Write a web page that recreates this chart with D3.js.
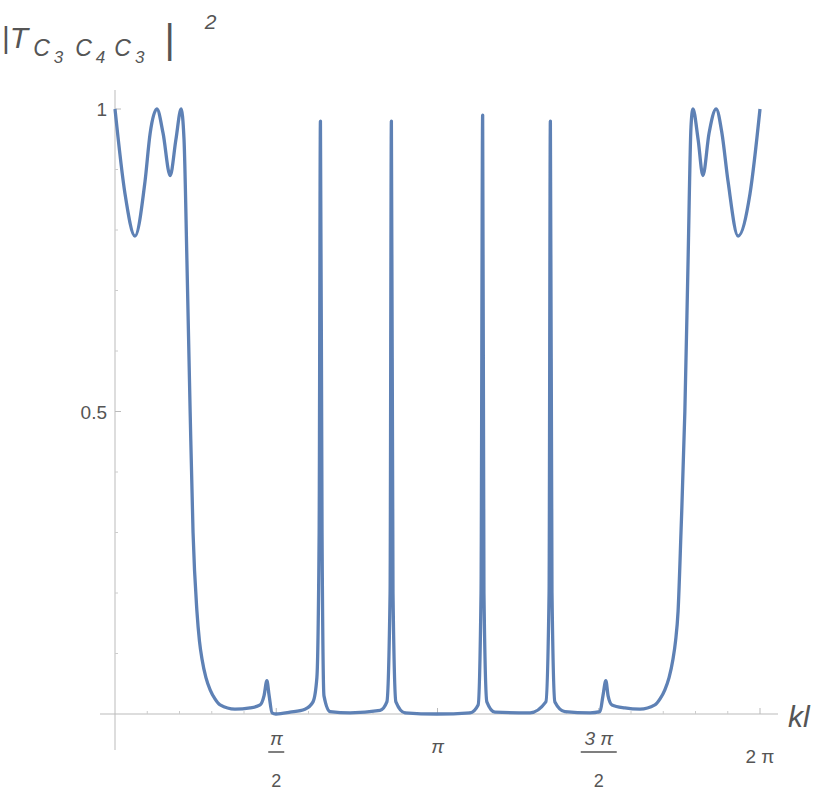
<!DOCTYPE html>
<html><head><meta charset="utf-8">
<script src="https://cdn.jsdelivr.net/npm/d3@7"></script>
<style>body{margin:0;background:#fff}text{font-family:"Liberation Sans",Arial,sans-serif;fill:#555}</style>
</head><body><svg></svg>
<script>
// kl in units of pi, |T|^2
const klOverPi = [0,0.031,0.062,0.093,0.109,0.130,0.149,0.171,0.189,0.205,0.214,0.223,0.233,0.242,0.254,0.262,0.270,0.282,0.295,0.310,0.326,0.372,0.419,0.450,0.462,0.471,0.478,0.487,0.499,0.543,0.589,0.614,0.626,0.633,0.637,0.642,0.648,0.667,0.729,0.822,0.843,0.853,0.857,0.862,0.871,0.899,0.998,1.101,1.126,1.135,1.140,1.144,1.153,1.178,1.287,1.336,1.346,1.350,1.355,1.364,1.395,1.473,1.504,1.513,1.522,1.529,1.541,1.581,1.628,1.674,1.690,1.705,1.718,1.730,1.738,1.746,1.755,1.767,1.777,1.786,1.792,1.808,1.823,1.842,1.864,1.882,1.901,1.932,1.969,2]
const T2 = [1.0,0.86,0.79,0.88,0.96,1.0,0.96,0.89,0.95,1.0,0.95,0.75,0.5,0.3,0.17,0.12,0.09,0.06,0.04,0.025,0.015,0.008,0.01,0.015,0.03,0.055,0.03,0.002,0,0.003,0.008,0.02,0.06,0.3,0.98,0.3,0.03,0.004,0.002,0.006,0.02,0.2,0.98,0.2,0.02,0.002,0,0.002,0.015,0.2,0.99,0.2,0.02,0.003,0.002,0.02,0.2,0.98,0.2,0.02,0.004,0.002,0.004,0.03,0.055,0.03,0.015,0.01,0.008,0.015,0.025,0.04,0.06,0.09,0.12,0.17,0.3,0.5,0.75,0.97,1.0,0.95,0.89,0.96,1.0,0.96,0.88,0.79,0.86,1.0]
const yTicks = [0.5, 1]
const xMajor = [0.5, 1, 1.5, 2]

const w = 830, h = 794
const svg = d3.select('svg').attr('width', w).attr('height', h)
const x = d3.scaleLinear().domain([0, 2]).range([115, 760])
const y = d3.scaleLinear().domain([0, 1]).range([714, 109])

// axes
svg.append('line').attr('x1', 100).attr('x2', 778).attr('y1', y(0)).attr('y2', y(0)).attr('stroke', '#bbb')
svg.append('line').attr('x1', x(0)).attr('x2', x(0)).attr('y1', 90).attr('y2', 750).attr('stroke', '#bbb')

const minor = d3.range(0.1, 2.01, 0.1).filter(v => Math.abs(v * 2 - Math.round(v * 2)) > 1e-6)
svg.selectAll('.mx').data(minor).enter().append('line')
  .attr('x1', d => x(d)).attr('x2', d => x(d)).attr('y1', y(0)).attr('y2', y(0) - 3).attr('stroke', '#ccc')
svg.selectAll('.Mx').data(xMajor).enter().append('line')
  .attr('x1', d => x(d)).attr('x2', d => x(d)).attr('y1', y(0)).attr('y2', y(0) - 6).attr('stroke', '#bbb')
const minorY = d3.range(0.1, 1.01, 0.1).filter(v => Math.abs(v * 2 - Math.round(v * 2)) > 1e-6)
svg.selectAll('.my').data(minorY).enter().append('line')
  .attr('x1', x(0)).attr('x2', x(0) + 3).attr('y1', d => y(d)).attr('y2', d => y(d)).attr('stroke', '#ccc')
svg.selectAll('.My').data(yTicks).enter().append('line')
  .attr('x1', x(0)).attr('x2', x(0) + 6).attr('y1', d => y(d)).attr('y2', d => y(d)).attr('stroke', '#bbb')
svg.selectAll('.yl').data(yTicks).enter().append('text')
  .attr('x', x(0) - 8).attr('y', d => y(d) + 7).attr('text-anchor', 'end').attr('font-size', 19)
  .text(d => d === 1 ? '1' : '0.5')

// x labels
const fr = [0.5, 1.5]
fr.forEach(v => {
  const g = svg.append('g')
  g.append('text').attr('x', x(v)).attr('y', 745).attr('text-anchor', 'middle').attr('font-size', 19).attr('font-style', 'italic').text(v === 0.5 ? 'π' : '3  π')
  g.append('line').attr('x1', x(v) - (v === 0.5 ? 8 : 18)).attr('x2', x(v) + (v === 0.5 ? 8 : 18)).attr('y1', 752).attr('y2', 752).attr('stroke', '#555').attr('stroke-width', 1.5)
  g.append('text').attr('x', x(v)).attr('y', 787).attr('text-anchor', 'middle').attr('font-size', 18).text('2')
})
svg.append('text').attr('x', x(1)).attr('y', 753).attr('text-anchor', 'middle').attr('font-size', 19).attr('font-style', 'italic').text('π')
svg.append('text').attr('x', x(2)).attr('y', 763).attr('text-anchor', 'middle').attr('font-size', 19).text('2  π')
svg.append('text').attr('x', 788).attr('y', 727).attr('font-size', 30).attr('font-style', 'italic').text('kl')

// y title
const t = svg.append('text').attr('x', 2).attr('y', 48).attr('font-size', 30).attr('font-style', 'italic')
t.append('tspan').attr('font-style', 'normal').text('|')
t.append('tspan').text('T')
t.append('tspan').attr('dy', 8).attr('font-size', 23).attr('dx', 5).text('C')
t.append('tspan').attr('dy', 7).attr('font-size', 17).attr('dx', 4).text('3')
t.append('tspan').attr('dy', -7).attr('font-size', 23).attr('dx', 12).text('C')
t.append('tspan').attr('dy', 7).attr('font-size', 17).attr('dx', 4).text('4')
t.append('tspan').attr('dy', -7).attr('font-size', 23).attr('dx', 9).text('C')
t.append('tspan').attr('dy', 7).attr('font-size', 17).attr('dx', 4).text('3')
t.append('tspan').attr('dy', -10).attr('font-style', 'normal').attr('font-size', 40).attr('dx', 20).text('|')
t.append('tspan').attr('dy', -24).attr('font-size', 21).attr('dx', 30).text('2')

// curve
const pts = klOverPi.map((k, i) => [k, T2[i]])
svg.append('path').datum(pts)
  .attr('fill', 'none').attr('stroke', '#5e81b5').attr('stroke-width', 3.3).attr('stroke-linejoin', 'round')
  .attr('d', d3.line().x(d => x(d[0])).y(d => y(d[1])).curve(d3.curveMonotoneX))
</script></body></html>
